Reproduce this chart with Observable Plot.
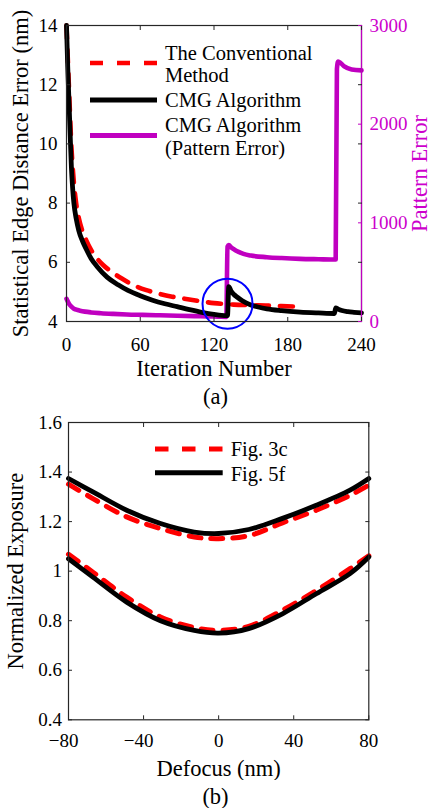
<!DOCTYPE html>
<html><head><meta charset="utf-8">
<script src="https://cdn.jsdelivr.net/npm/d3@7"></script>
<script src="https://cdn.jsdelivr.net/npm/@observablehq/plot@0.6"></script>
<style>
body{margin:0;background:#fff;font-family:"Liberation Serif","Times New Roman",serif;}
#wrap{position:relative;width:431px;height:808px;overflow:hidden;background:#fff;}
#wrap svg{position:absolute;left:0;font-family:"Liberation Serif","Times New Roman",serif;}
#wrap svg text{font-family:"Liberation Serif","Times New Roman",serif;}
.cap{position:absolute;left:0;width:431px;text-align:center;font-size:22.5px;height:28px;line-height:28px;}
</style></head><body><div id="wrap"></div>
<script>
// ---------- (a) data ----------
const iterConv = [0,2,4,6,8,10,13,16,20,25,30,36,45,55,65,76,86,96,108,120,136,150,162,175,190];
const sedeConv = [14.0,11.9,9.9,8.7,7.95,7.5,7.05,6.75,6.42,6.12,5.9,5.7,5.45,5.22,5.06,4.93,4.84,4.77,4.69,4.62,4.57,4.55,4.54,4.52,4.5];
const iterCMG = [0,1,2,3,4,5,6,8,10,13,16,20,25,33,42,50,60,70,80,90,100,110,120,130,131,132,134,136,139,143,150,156,163,175,190,205,218,219,221,224,229,234,240];
const sedeCMG = [14.0,12.6,11.45,10.3,9.2,8.5,8.0,7.45,7.07,6.72,6.45,6.13,5.85,5.5,5.24,5.05,4.87,4.72,4.6,4.5,4.4,4.31,4.24,4.2,4.2,5.18,5.02,4.92,4.82,4.7,4.56,4.49,4.43,4.37,4.32,4.29,4.27,4.46,4.42,4.37,4.33,4.31,4.29];
const iterPat = [0,2,4,6,8,11,15,20,28,38,49,62,76,90,104,115,125,130,131,132,134,137,140,144,150,163,175,190,205,219,220,221,223,226,232,240];
const patternErr = [230,180,150,130,120,110,100,92,84,77,71,67,63,58,54,52,48,47,760,775,750,725,705,685,668,652,643,635,631,628,2560,2635,2620,2585,2555,2545];
const circleIter = [131];
const circleSede = [4.6];
const xTicksA = [0,60,120,180,240];
const yTicksA = [4,6,8,10,12,14];
const pTicksA = [0,1000,2000,3000];

// ---------- (b) data ----------
const defocus = [-80,-67,-49,-31,-13,0,16,34,52,70,80];
const upper3c = [1.351,1.293,1.219,1.172,1.138,1.131,1.143,1.195,1.246,1.306,1.347];
const upper5f = [1.374,1.32,1.246,1.192,1.158,1.152,1.168,1.213,1.266,1.327,1.374];
const lower3c = [1.068,0.996,0.895,0.815,0.772,0.761,0.777,0.842,0.922,1.01,1.062];
const lower5f = [1.05,0.976,0.875,0.80,0.761,0.75,0.768,0.828,0.909,0.99,1.057];
const xTicksB = [-80,-40,0,40,80];
const yTicksB = [0.4,0.6,0.8,1.0,1.2,1.4,1.6];

const FONT = '"Liberation Serif","Times New Roman",serif';
const MAG = "#c000c0", MAGT = "#cc00cc", RED = "#ff0000", AX = "#262626";
const toL = p => 4 + p / 300;   // map pattern error onto left scale (0..3000 -> 4..14)

const conv = iterConv.map((it, i) => ({it, v: sedeConv[i]}));
const cmg = iterCMG.map((it, i) => ({it, v: sedeCMG[i]}));
const pat = iterPat.map((it, i) => ({it, p: patternErr[i]}));
const circ = circleIter.map((it, i) => ({it, v: circleSede[i]}));

const wrap = document.getElementById("wrap");
const T = {fontFamily: FONT};

const plotA = Plot.plot({
  width: 431, height: 380,
  marginLeft: 66, marginRight: 70, marginTop: 25, marginBottom: 59,
  style: {fontFamily: FONT, fontSize: "19px", background: "white", color: "black"},
  x: {domain: [0, 240], label: null},
  y: {domain: [4, 14], label: null},
  marks: [
    Plot.line(pat, {x: "it", y: d => toL(d.p), stroke: MAG, strokeWidth: 4.6, curve: "monotone-x"}),
    Plot.line(conv, {x: "it", y: "v", stroke: RED, strokeWidth: 4.6, strokeDasharray: "13,11", curve: "monotone-x"}),
    Plot.line(cmg, {x: "it", y: "v", stroke: "black", strokeWidth: 4.8, curve: "monotone-x"}),
    Plot.dot(circ, {x: "it", y: "v", r: 25, stroke: "#0000ff", strokeWidth: 2, fill: "none"}),
    Plot.frame({stroke: AX, strokeWidth: 1.2}),
    Plot.ruleX([240], {stroke: MAG, strokeWidth: 1.2}),
    Plot.axisX(xTicksA, {...T, anchor: "bottom", tickSize: -4, tickPadding: 19.7, stroke: AX, fill: "black", label: null}),
    Plot.axisX(xTicksA, {anchor: "top", tickSize: -4, tickFormat: () => "", stroke: AX, label: null}),
    Plot.axisY(yTicksA, {...T, anchor: "left", tickSize: -4, tickPadding: 13, stroke: AX, fill: "black", label: null}),
    Plot.axisY(yTicksA, {anchor: "right", tickSize: -4, tickFormat: () => "", stroke: AX, label: null}),
    Plot.axisY(pTicksA.map(toL), {...T, anchor: "right", tickSize: -4, tickPadding: 12, stroke: MAG, fill: MAGT,
      tickFormat: d => String(Math.round((d - 4) * 300)), label: null}),
    Plot.text(["Iteration Number"], {...T, text: d => d, frameAnchor: "bottom", dy: 47, fontSize: 22.5, lineAnchor: "middle", textAnchor: "middle", fill: "black"}),
    Plot.text(["Statistical Edge Distance Error (nm)"], {...T, text: d => d, frameAnchor: "left", dx: -45.5, rotate: -90, fontSize: 22.5, lineAnchor: "middle", textAnchor: "middle", fill: "black"}),
    Plot.text(["Pattern Error"], {...T, text: d => d, frameAnchor: "right", dx: 58.5, rotate: -90, fontSize: 22.5, lineAnchor: "middle", textAnchor: "middle", fill: MAGT})
  ]
});
plotA.style.top = "0px";
wrap.appendChild(plotA);

const mk = (xs, ys) => xs.map((d, i) => ({d, e: ys[i]}));
const plotB = Plot.plot({
  width: 431, height: 370,
  marginLeft: 68, marginRight: 62.7, marginTop: 12, marginBottom: 60.7,
  style: {fontFamily: FONT, fontSize: "19px", background: "white", color: "black"},
  x: {domain: [-80, 80], label: null},
  y: {domain: [0.4, 1.6], label: null},
  marks: [
    Plot.line(mk(defocus, upper3c), {x: "d", y: "e", stroke: RED, strokeWidth: 5, strokeDasharray: "12,10", curve: "catmull-rom"}),
    Plot.line(mk(defocus, lower3c), {x: "d", y: "e", stroke: RED, strokeWidth: 5, strokeDasharray: "12,10", curve: "catmull-rom"}),
    Plot.line(mk(defocus, upper5f), {x: "d", y: "e", stroke: "black", strokeWidth: 4.8, curve: "catmull-rom"}),
    Plot.line(mk(defocus, lower5f), {x: "d", y: "e", stroke: "black", strokeWidth: 4.8, curve: "catmull-rom"}),
    Plot.frame({stroke: AX, strokeWidth: 1.2}),
    Plot.axisX(xTicksB, {...T, anchor: "bottom", tickSize: -4, tickPadding: 17.7, stroke: AX, fill: "black",
      tickFormat: d => d < 0 ? "" : String(d), label: null}),
    Plot.axisX(xTicksB.filter(d => d < 0), {...T, anchor: "bottom", tickSize: 0, tickPadding: 13.7, textAnchor: "end", dx: 10, fill: "black",
      tickFormat: d => "\u2212" + Math.abs(d), label: null}),
    Plot.axisX(xTicksB, {anchor: "top", tickSize: -4, tickFormat: () => "", stroke: AX, label: null}),
    Plot.axisY(yTicksB, {...T, anchor: "left", tickSize: -4, tickPadding: 10.6, stroke: AX, fill: "black",
      tickFormat: d => String(+d.toFixed(1)), label: null}),
    Plot.axisY(yTicksB, {anchor: "right", tickSize: -4, tickFormat: () => "", stroke: AX, label: null}),
    Plot.text(["Defocus (nm)"], {...T, text: d => d, frameAnchor: "bottom", dy: 48.5, fontSize: 22.5, lineAnchor: "middle", textAnchor: "middle", fill: "black"}),
    Plot.text(["Normalized Exposure"], {...T, text: d => d, frameAnchor: "left", dx: -53, rotate: -90, fontSize: 22.5, lineAnchor: "middle", textAnchor: "middle", fill: "black"})
  ]
});
plotB.style.top = "410px";
wrap.appendChild(plotB);

// captions
const capA = document.createElement("div"); capA.className = "cap"; capA.style.top = "383px"; capA.textContent = "(a)"; wrap.appendChild(capA);
const capB = document.createElement("div"); capB.className = "cap"; capB.style.top = "783px"; capB.textContent = "(b)"; wrap.appendChild(capB);

// legends (overlay)
const NS = "http://www.w3.org/2000/svg";
function legend(top, height, items) {
  const s = document.createElementNS(NS, "svg");
  s.setAttribute("width", 431); s.setAttribute("height", height);
  s.style.top = top + "px";
  s.setAttribute("font-family", FONT);
  for (const it of items) {
    if (it.line) {
      const l = document.createElementNS(NS, "line");
      l.setAttribute("x1", it.x1); l.setAttribute("x2", it.x2);
      l.setAttribute("y1", it.y); l.setAttribute("y2", it.y);
      l.setAttribute("stroke", it.stroke); l.setAttribute("stroke-width", it.w);
      if (it.dash) l.setAttribute("stroke-dasharray", it.dash);
      s.appendChild(l);
    } else {
      const t = document.createElementNS(NS, "text");
      t.setAttribute("x", it.x); t.setAttribute("y", it.y);
      t.setAttribute("font-size", it.size); t.setAttribute("fill", "black");
      t.textContent = it.text; s.appendChild(t);
    }
  }
  wrap.appendChild(s);
}
legend(0, 170, [
  {line: true, x1: 90, x2: 157, y: 63, stroke: RED, w: 4.7, dash: "13,14"},
  {text: "The Conventional", x: 165, y: 59.5, size: 20.5},
  {text: "Method", x: 165, y: 81.7, size: 20.5},
  {line: true, x1: 90, x2: 157, y: 100, stroke: "black", w: 5},
  {text: "CMG Algorithm", x: 165, y: 107, size: 20.5},
  {line: true, x1: 90, x2: 157, y: 135.5, stroke: MAG, w: 5},
  {text: "CMG Algorithm", x: 165, y: 132.3, size: 20.5},
  {text: "(Pattern Error)", x: 165, y: 154.5, size: 20.5}
]);
legend(410, 90, [
  {line: true, x1: 155, x2: 222.7, y: 39, stroke: RED, w: 5, dash: "13.5,13.5"},
  {text: "Fig. 3c", x: 230.7, y: 46, size: 20.5},
  {line: true, x1: 155, x2: 222.7, y: 62.7, stroke: "black", w: 5},
  {text: "Fig. 5f", x: 230.7, y: 71, size: 20.5}
]);
</script></body></html>
